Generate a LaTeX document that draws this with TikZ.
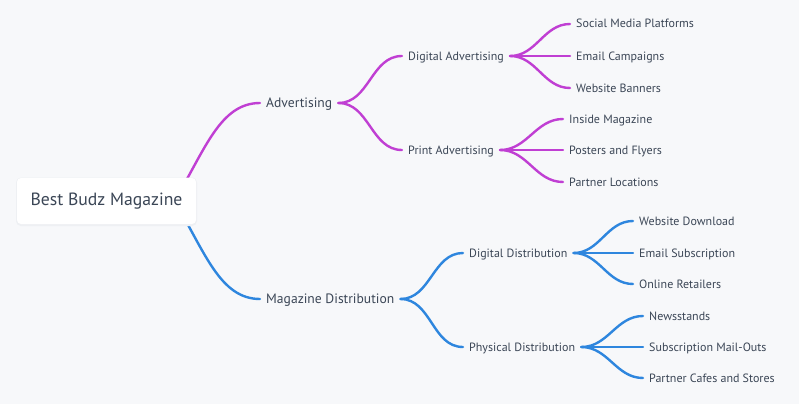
\documentclass[tikz,border=0pt]{standalone}
\usepackage{fontspec}
\setmainfont{PT Sans}
\usetikzlibrary{calc}
\definecolor{bg}{HTML}{F7F8FA}
\definecolor{txt}{HTML}{3B4656}
\definecolor{pur}{HTML}{C03FD3}
\definecolor{blu}{HTML}{2E86DE}
\definecolor{shd}{HTML}{EEF0F3}
\tikzset{
  lbl/.style={anchor=west, inner xsep=6pt, inner ysep=0pt, text height=.8em, text depth=0pt, text=txt},
  lone/.style={lbl, font=\fontsize{13.6}{16}\selectfont},
  ltwo/.style={lbl, font=\fontsize{12}{14}\selectfont},
  rootbox/.style={fill=white, rounded corners=4pt, minimum width=179pt, minimum height=46pt,
    text=txt, font=\fontsize{17.7}{20}\selectfont},
  rootshadow/.style={fill=shd, rounded corners=5pt, minimum width=181pt, minimum height=48.5pt},
  link/.style={line width=2.4pt, line cap=round},
  plink/.style={link, draw=pur},
  blink/.style={link, draw=blu},
}
\begin{document}
\begin{tikzpicture}[x=1pt,y=-1pt]
\path[fill=bg] (0,0) rectangle (799,404);
\useasboundingbox (0,0) rectangle (799,404);
% level 1 and 2 nodes
\node[lone] (adv) at (260,103) {Advertising};
\node[lone] (mag) at (260,299) {Magazine Distribution};
\node[ltwo] (dadv) at (402,56) {Digital Advertising};
\node[ltwo] (padv) at (402,150) {Print Advertising};
\node[ltwo] (ddis) at (463,253) {Digital Distribution};
\node[ltwo] (pdis) at (463,347) {Physical Distribution};
% leaves
\node[ltwo] (smp) at (570,24) {Social Media Platforms};
\node[ltwo] (ecp) at (570,56) {Email Campaigns};
\node[ltwo] (wbn) at (570,88) {Website Banners};
\node[ltwo] (ims) at (563,119) {Inside Magazine};
\node[ltwo] (pfl) at (563,150) {Posters and Flyers};
\node[ltwo] (plc) at (563,182) {Partner Locations};
\node[ltwo] (wdl) at (633,221) {Website Download};
\node[ltwo] (esb) at (633,253) {Email Subscription};
\node[ltwo] (orl) at (633,284) {Online Retailers};
\node[ltwo] (nws) at (643,316) {Newsstands};
\node[ltwo] (smo) at (643,347) {Subscription Mail-Outs};
\node[ltwo] (pcs) at (643,378) {Partner Cafes and Stores};
% root connectors (start hidden under root box)
\coordinate (rs1) at (175,200);
\coordinate (rs2) at (175,202);
\draw[plink] (rs1) .. controls +(30,-50) and +(-40,0) .. (adv.west);
\draw[blink] (rs2) .. controls +(30,50) and +(-40,0) .. (mag.west);
\node[rootshadow] (rootsh) at (106.5,201.8) {};
\node[rootbox] (root) at (106.5,201) {Best Budz Magazine};
% branches
\foreach \a/\b in {adv/dadv, adv/padv, dadv/smp, dadv/ecp, dadv/wbn, padv/ims, padv/pfl, padv/plc}
  \draw[plink] (\a.east) to[out=0,in=180] (\b.west);
\foreach \a/\b in {mag/ddis, mag/pdis, ddis/wdl, ddis/esb, ddis/orl, pdis/nws, pdis/smo, pdis/pcs}
  \draw[blink] (\a.east) to[out=0,in=180] (\b.west);
\end{tikzpicture}
\end{document}
